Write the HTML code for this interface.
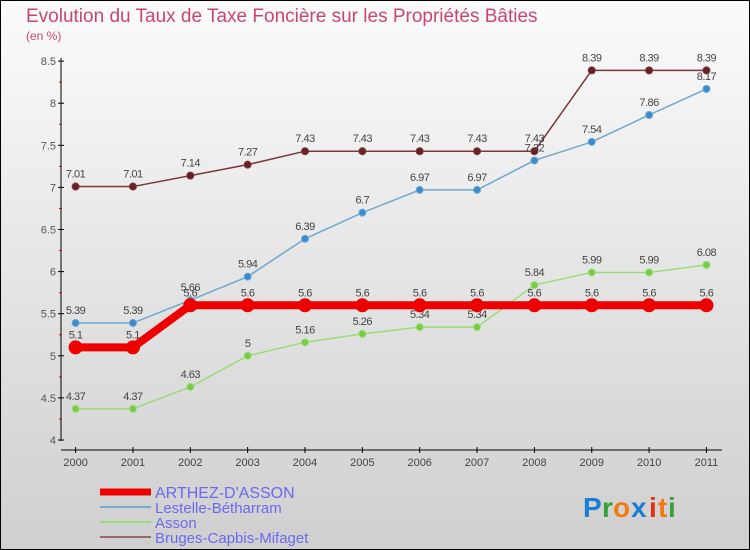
<!DOCTYPE html>
<html><head><meta charset="utf-8"><style>
body{margin:0;padding:0}
#wrap{width:750px;height:550px;position:relative;overflow:hidden;font-family:"Liberation Sans",sans-serif}
svg text{font-family:"Liberation Sans",sans-serif}
</style></head><body>
<div id="wrap">
<svg id="chart" width="750" height="550" xmlns="http://www.w3.org/2000/svg">
<defs><linearGradient id="bg" x1="0" y1="0" x2="0" y2="1"><stop offset="0" stop-color="#fbfbfb"/><stop offset="1" stop-color="#cfcfcf"/></linearGradient></defs>
<rect x="0.5" y="0.5" width="749" height="549" fill="url(#bg)" stroke="#000"/>
<text x="26" y="22" font-size="19" fill="#cc4477">Evolution du Taux de Taxe Foncière sur les Propriétés Bâties</text>
<text x="26" y="40" font-size="12" fill="#cc4477">(en %)</text>
<g id="axes"></g>
<g id="series"></g>
<g id="legend"></g>
<g font-size="28" font-weight="bold">
<text x="583" y="517" fill="#1a7fd4">P</text><text x="602" y="517" fill="#3aa03a">r</text><text x="613" y="517" fill="#f07a10">o</text><text x="631" y="517" fill="#1a7fd4">x</text><text x="649" y="517" fill="#e03010">i</text><text x="658" y="517" fill="#f07a10">t</text><text x="668" y="517" fill="#3aa03a">i</text>
</g>
</svg>
</div>
<script>
const years=["2000","2001","2002","2003","2004","2005","2006","2007","2008","2009","2010","2011"];
const yTicks=[4,4.5,5,5.5,6,6.5,7,7.5,8,8.5];
const arthez=[5.1,5.1,5.6,5.6,5.6,5.6,5.6,5.6,5.6,5.6,5.6,5.6];
const lestelle=[5.39,5.39,5.66,5.94,6.39,6.7,6.97,6.97,7.32,7.54,7.86,8.17];
const asson=[4.37,4.37,4.63,5,5.16,5.26,5.34,5.34,5.84,5.99,5.99,6.08];
const bruges=[7.01,7.01,7.14,7.27,7.43,7.43,7.43,7.43,7.43,8.39,8.39,8.39];
const NS="http://www.w3.org/2000/svg";
function xs(i){return 75.6+i*57.35;}
function ys(v){return 440-(v-4)*84.2;}
function mk(tag,attrs,parent){const e=document.createElementNS(NS,tag);for(const k in attrs)e.setAttribute(k,attrs[k]);parent.appendChild(e);return e;}
const axes=document.getElementById('axes');
let a=mk('line',{x1:61,y1:58,x2:61,y2:441,stroke:'#000'},axes);


a=mk('line',{x1:61,y1:450,x2:722,y2:450,stroke:'#000'},axes);


yTicks.forEach((t,i)=>{const y=ys(t);mk('line',{x1:58,y1:y,x2:64,y2:y,stroke:'#000'},axes);
if(i<yTicks.length-1)mk('line',{x1:59,y1:y-21,x2:62,y2:y-21,stroke:'#d00'},axes);
const tx=mk('text',{x:56,y:y+4,'font-size':11,fill:'#555','text-anchor':'end'},axes);tx.textContent=String(t);

});
years.forEach((yr,i)=>{const x=xs(i);mk('line',{x1:x,y1:447,x2:x,y2:453,stroke:'#000'},axes);
const tx=mk('text',{x:x,y:466,'font-size':11,fill:'#444','text-anchor':'middle'},axes);tx.textContent=yr;

});
const ser=document.getElementById('series');
function draw(data,name,color,fill,w,r,labelCol){
const g=mk('g',{},ser);


const pts=data.map((v,i)=>xs(i)+','+ys(v)).join(' ');
mk('polyline',{points:pts,fill:'none',stroke:color,'stroke-width':w,'stroke-linejoin':'round'},g);
data.forEach((v,i)=>{const c=mk('circle',{cx:xs(i),cy:ys(v),r:r,fill:fill,stroke:color,'stroke-width':1},g);


const t=mk('text',{x:xs(i),y:ys(v)-9,'font-size':11,fill:labelCol,'text-anchor':'middle','letter-spacing':'-0.5'},g);t.textContent=String(v);

});}
draw(bruges,'bruges','#7a3838','#6a1f24',1.5,3.5,'#444');
draw(lestelle,'lestelle','#6fa8d0','#3a8ad0',1.5,3.5,'#444');
draw(asson,'asson','#99dd77','#77cc44',1.5,3.5,'#444');
draw(arthez,'arthez','#ee0000','#ee0000',8,6.5,'#444');
const lg=document.getElementById('legend');
const items=[["ARTHEZ-D'ASSON",'#ee0000',7,493,16],["Lestelle-Bétharram",'#7aaacc',2,508,15],["Asson",'#99dd77',2,523,15],["Bruges-Capbis-Mifaget",'#9a6a6a',2,538,15]];
items.forEach(it=>{const g=mk('g',{},lg);


mk('line',{x1:100,y1:it[3]-1,x2:151,y2:it[3]-1,stroke:it[1],'stroke-width':it[2]},g);
const t=mk('text',{x:155,y:it[3]+5,'font-size':it[4],fill:'#6a6af0'},g);t.textContent=it[0];});
</script>
</body></html>
